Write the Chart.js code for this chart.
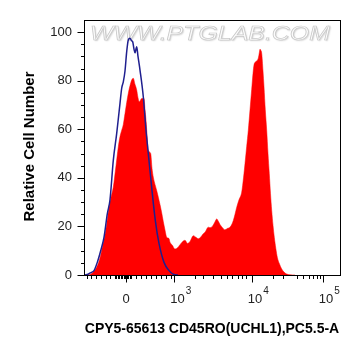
<!DOCTYPE html>
<html><head><meta charset="utf-8">
<script src="https://cdn.jsdelivr.net/npm/chart.js@4"></script>
<style>html,body{margin:0;padding:0;background:#fff}</style>
</head><body>
<canvas id="c" width="361" height="356" style="width:361px;height:356px;display:block"></canvas>
<script>
// x values are display channels of the biexponential axis (0..256 across the plot)
const redChannels = [2,6.7,10,13.3,16,18.3,21.7,25,27,29.3,32,34.3,36,37.7,39.3,41,42.7,44.3,46,47.7,49.3,51,52.7,54,55.3,57.7,60,61,62,63.3,64.3,66.7,68,69.3,72.7,76,77.5,79.3,81,82.7,85,86,88.3,91,93.5,96,98,101,103.5,106,109.3,112,114.3,116.5,119.3,121,124.3,126,128.3,130.5,132.7,134.5,136,138.5,141,143.5,146,148,149.3,151,152.7,155,157.7,159.5,161,162.7,164.3,166,167.7,169,170,172,174.3,175.3,176,176.8,177.7,179,180,181.3,182.7,184,185.3,186.5,187.7,189,190.3,191.8,193.3,195.5,197.7,200,202.7,206,211];
const redCounts = [0,0.3,1.5,3.8,7,11.4,18.3,27.9,32,36.2,45,52.7,57,59.6,62,66.5,71,74.8,78,80.3,81,78.5,76.2,73,71.3,72.7,72.7,68,63.8,56,51.4,50,44,40.3,34.8,29,26,22,18.5,15.5,15,13.5,12.3,10.7,11.2,12.5,13.5,14.3,13,13.8,16.2,15.5,14.9,15.5,17,17.6,19.7,19.5,20,21.5,23.1,22,20.8,19.5,18.6,19.2,19.7,21,22.4,25,27.9,31,34.1,40,45.9,53,59.6,68,76.5,83,86.5,87.9,89.3,91.5,93,92.5,91.3,84,77.5,68,59.6,50,41.7,33.5,26.6,20.5,15.5,11,7.3,4.5,2.5,1.2,0.4,0.1,0];
const blueChannels = [1,4,7,10,13.3,16.7,20,23.3,26,29.3,32.7,34.5,36,37.7,39.3,41,42.7,44.3,46,47.5,48.7,50,51,52.7,54,56,59.3,62,64.3,67.7,71.3,75,80,85,90,94];
const blueCounts = [0,0.3,1,1.8,5.2,10,15.5,25.2,31,47.2,58.3,65,70.7,76.9,79.5,84,92,96.8,97.5,96.5,96,93,91.5,94,90,84.4,73.4,59.6,50,36,22.5,13,5.2,1.8,0.2,0];

const xMajorTickChannels = [42, 90.3, 167.7, 238.7];
const xMajorTickBase = ['0', '10', '10', '10'];
const xMajorTickExp = ['', '3', '4', '5'];
const xMinorTickChannels = [2.7,7.3,12.3,17.3,22.3,26,30.7,32.2,33.7,35.2,36.7,38.2,39.7,41.2,42.7,44.2,45.7,46.7,51.7,56.7,61.7,66.7,71.7,76.7,81.7,87.3,111,119.3,128.7,136.7,143.3,148.3,154.3,158.3,162.3,189.3,199.3,212.7,219.3,225.3,229.3,232.7,236];
const yMajorTicks = [0,20,40,60,80,100];
const yMinorTicks = [5,10,15,25,30,35,45,50,55,65,70,75,85,90,95];

const xTitle = 'CPY5-65613 CD45RO(UCHL1),PC5.5-A';
const yTitle = 'Relative Cell Number';
const watermark = 'WWW.PTGLAB.COM';

const toXY = (xs, ys) => xs.map((x, i) => ({x: x, y: ys[i]}));

const decor = {
  id: 'decor',
  beforeDatasetsDraw(chart) {
    const ctx = chart.ctx;
    ctx.save();
    ctx.font = 'italic 21px "Liberation Sans", Arial, sans-serif';
    const w = ctx.measureText(watermark).width;
    ctx.translate(90, 40);
    ctx.scale(240 / w, 1);
    ctx.fillStyle = '#fbfbfb';
    ctx.shadowColor = 'rgba(0,0,0,0.18)';
    ctx.shadowOffsetX = 1; ctx.shadowOffsetY = 1; ctx.shadowBlur = 1.5;
    ctx.fillText(watermark, 0, 0);
    ctx.shadowColor = 'transparent';
    ctx.strokeStyle = '#c8c8c8';
    ctx.lineWidth = 0.7;
    ctx.strokeText(watermark, 0, 0);
    ctx.restore();
  },
  afterDraw(chart) {
    const ctx = chart.ctx, a = chart.chartArea;
    const xs = chart.scales.x, ys = chart.scales.y;
    ctx.save();
    ctx.strokeStyle = '#000';
    ctx.lineWidth = 1;
    ctx.strokeRect(Math.round(a.left) + 0.5, Math.round(a.top) + 0.5, Math.round(a.right - a.left), Math.round(a.bottom - a.top));
    const bottom = Math.round(a.bottom) + 0.5, left = Math.round(a.left) + 0.5;
    ctx.beginPath();
    xMinorTickChannels.forEach(v => { const p = Math.round(xs.getPixelForValue(v)) + 0.5; ctx.moveTo(p, bottom); ctx.lineTo(p, bottom + 3.5); });
    xMajorTickChannels.forEach(v => { const p = Math.round(xs.getPixelForValue(v)) + 0.5; ctx.moveTo(p, bottom); ctx.lineTo(p, bottom + 7); });
    yMinorTicks.forEach(v => { const p = Math.round(ys.getPixelForValue(v)) + 0.5; ctx.moveTo(left, p); ctx.lineTo(left - 3.5, p); });
    yMajorTicks.forEach(v => { const p = Math.round(ys.getPixelForValue(v)) + 0.5; ctx.moveTo(left, p); ctx.lineTo(left - 7, p); });
    ctx.stroke();

    ctx.fillStyle = '#222';
    ctx.font = '13px "Liberation Sans", Arial, sans-serif';
    ctx.textAlign = 'right';
    ctx.textBaseline = 'middle';
    yMajorTicks.forEach(v => ctx.fillText(String(v), a.left - 12, ys.getPixelForValue(v)));

    ctx.textBaseline = 'alphabetic';
    xMajorTickChannels.forEach((v, i) => {
      const p = xs.getPixelForValue(v);
      ctx.font = '13px "Liberation Sans", Arial, sans-serif';
      if (!xMajorTickExp[i]) {
        ctx.textAlign = 'center';
        ctx.fillText(xMajorTickBase[i], p, 302.5);
      } else {
        ctx.textAlign = 'left';
        const bx = p - 4;
        ctx.fillText(xMajorTickBase[i], bx, 302.5);
        const bw = ctx.measureText(xMajorTickBase[i]).width;
        ctx.font = '10px "Liberation Sans", Arial, sans-serif';
        ctx.fillText(xMajorTickExp[i], bx + bw + 1, 293.5);
      }
    });

    ctx.fillStyle = '#000';
    ctx.textAlign = 'center';
    ctx.textBaseline = 'middle';
    ctx.font = 'bold 14px "Liberation Sans", Arial, sans-serif';
    ctx.fillText(xTitle, 212, 329);
    ctx.font = 'bold 15px "Liberation Sans", Arial, sans-serif';
    ctx.translate(30, 146.5);
    ctx.rotate(-Math.PI / 2);
    ctx.fillText(yTitle, 0, 0);
    ctx.restore();
  }
};

new Chart(document.getElementById('c'), {
  type: 'line',
  data: {
    datasets: [
      { label: 'control', data: toXY(blueChannels, blueCounts), borderColor: '#1f1f8f', borderWidth: 1.5, fill: false, pointRadius: 0, cubicInterpolationMode: 'monotone' },
      { label: 'CD45RO', data: toXY(redChannels, redCounts), borderColor: 'rgba(255,0,0,1)', borderWidth: 0.5, backgroundColor: '#ff0000', fill: 'origin', pointRadius: 0, cubicInterpolationMode: 'monotone' }
    ]
  },
  options: {
    responsive: false, animation: false, devicePixelRatio: 1,
    layout: { padding: { left: 84, right: 21, top: 20, bottom: 81 } },
    plugins: { legend: { display: false }, tooltip: { enabled: false } },
    scales: {
      x: { type: 'linear', min: 0, max: 256, ticks: { display: false }, grid: { display: false, drawTicks: false }, border: { display: false }, afterFit: s => { s.height = 0; } },
      y: { type: 'linear', min: 0, max: 105, ticks: { display: false }, grid: { display: false, drawTicks: false }, border: { display: false }, afterFit: s => { s.width = 0; } }
    }
  },
  plugins: [decor]
});
</script>
</body></html>
